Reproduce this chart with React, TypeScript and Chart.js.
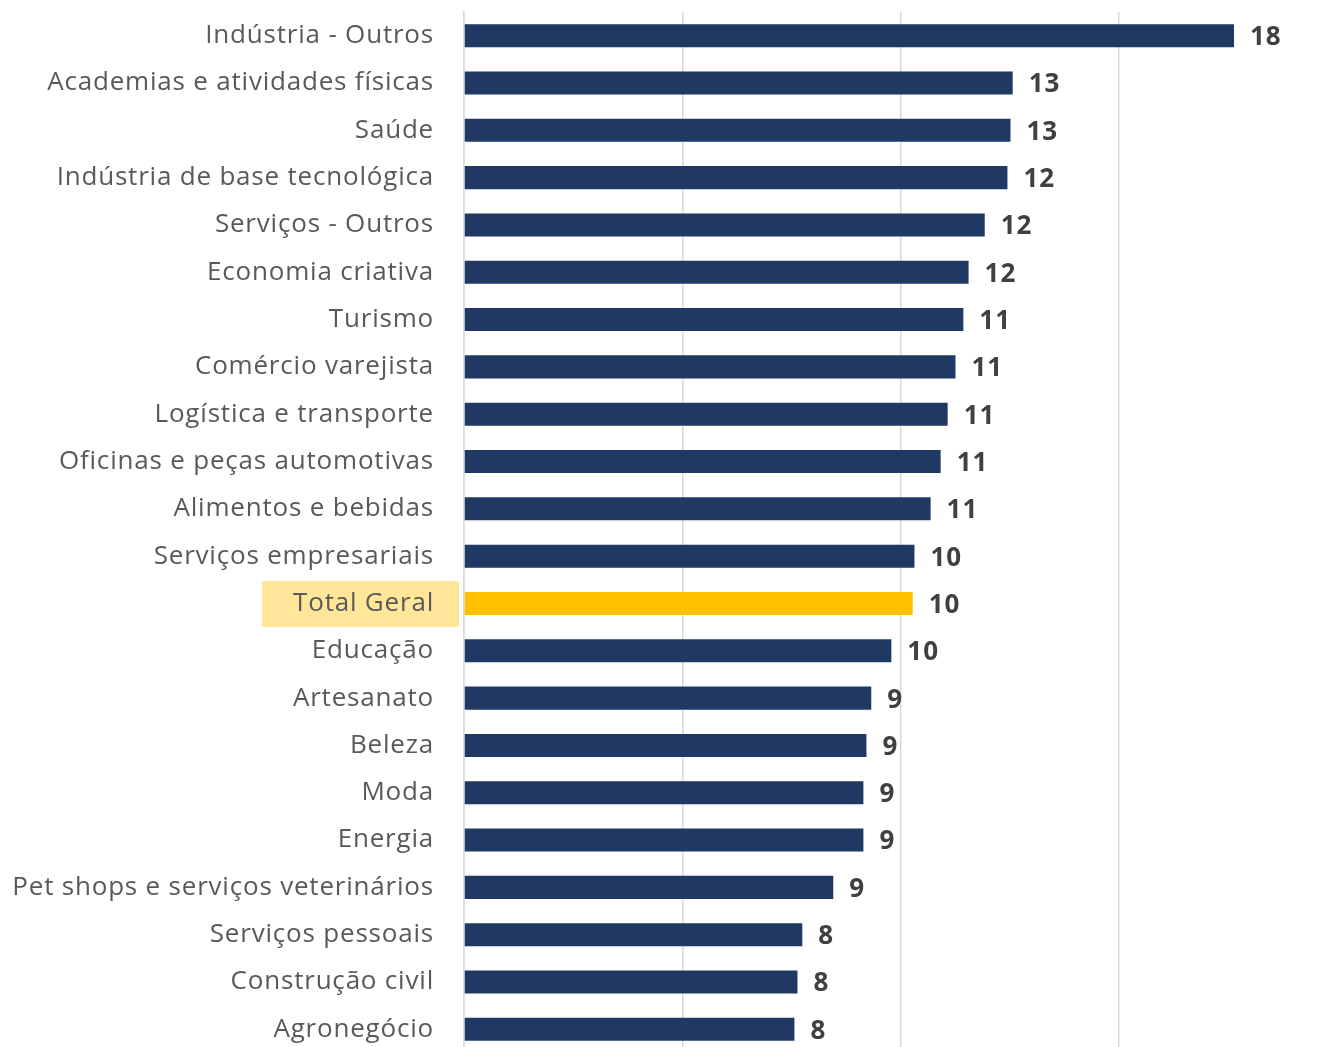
import React, { useEffect, useRef } from "react";
import { Chart, registerables } from "chart.js";

Chart.register(...registerables);

const categories: string[] = [
  "Indústria - Outros",
  "Academias e atividades físicas",
  "Saúde",
  "Indústria de base tecnológica",
  "Serviços - Outros",
  "Economia criativa",
  "Turismo",
  "Comércio varejista",
  "Logística e transporte",
  "Oficinas e peças automotivas",
  "Alimentos e bebidas",
  "Serviços empresariais",
  "Total Geral",
  "Educação",
  "Artesanato",
  "Beleza",
  "Moda",
  "Energia",
  "Pet shops e serviços veterinários",
  "Serviços pessoais",
  "Construção civil",
  "Agronegócio",
];

const values: number[] = [
  17.64, 12.57, 12.52, 12.45, 11.93, 11.56, 11.44, 11.26, 11.08, 10.92, 10.69,
  10.32, 10.28, 9.79, 9.33, 9.22, 9.15, 9.15, 8.46, 7.75, 7.64, 7.57,
];

const valueLabels: string[] = [
  "18", "13", "13", "12", "12", "12", "11", "11", "11", "11", "11",
  "10", "10", "10", "9", "9", "9", "9", "9", "8", "8", "8",
];

const highlightCategory = "Total Geral";
const NAVY = "#1F3864";
const GOLD = "#FFC000";
const FONT = "'Open Sans', sans-serif";

export default function App() {
  const ref = useRef<HTMLCanvasElement | null>(null);

  useEffect(() => {
    if (!ref.current) return;
    const hlIndex = categories.indexOf(highlightCategory);

    const highlightPlugin = {
      id: "hlLabel",
      beforeDraw(chart: any) {
        const { ctx, chartArea } = chart;
        const y = chart.scales.y.getPixelForValue(hlIndex);
        ctx.fillStyle = "#FFE699";
        ctx.fillRect(chartArea.left - 202, y - 22.5, 197, 46);
        (ctx as any).letterSpacing = "0.8px";
      },
      afterDraw(chart: any) {
        (chart.ctx as any).letterSpacing = "0px";
      },
    };

    const labelPlugin = {
      id: "valLabels",
      afterDatasetsDraw(chart: any) {
        const { ctx } = chart;
        const meta = chart.getDatasetMeta(0);
        ctx.save();
        ctx.font = `bold 26px ${FONT}`;
        (ctx as any).letterSpacing = "1px";
        ctx.fillStyle = "#404040";
        ctx.textAlign = "left";
        ctx.textBaseline = "middle";
        meta.data.forEach((bar: any, i: number) => {
          ctx.fillText(valueLabels[i], bar.x + 16, bar.y + 2);
        });
        ctx.restore();
      },
    };

    const chart = new Chart(ref.current, {
      type: "bar",
      data: {
        labels: categories,
        datasets: [
          {
            data: values,
            backgroundColor: categories.map((c) => (c === highlightCategory ? GOLD : NAVY)),
            categoryPercentage: 1,
            barPercentage: 0.487,
            borderWidth: 0,
          },
        ],
      },
      options: {
        indexAxis: "y",
        animation: false,
        responsive: false,
        maintainAspectRatio: false,
        layout: { padding: { top: 12, right: 3, bottom: 0, left: 0 } },
        plugins: { legend: { display: false }, tooltip: { enabled: false } },
        scales: {
          x: {
            min: 0,
            max: 20,
            ticks: { display: false, stepSize: 5 },
            grid: { color: "#D9D9D9", lineWidth: 1.5, drawTicks: false },
            border: { display: false },
          },
          y: {
            afterFit(scale: any) {
              scale.width = 464;
              scale.paddingTop = 0;
              scale.paddingBottom = 0;
            },
            ticks: {
              color: "#595959",
              padding: 30,
              font: { family: FONT, size: 26 },
            },
            grid: { display: false, drawTicks: false },
            border: { color: "#D9D9D9", width: 1.5 },
          },
        },
      },
      plugins: [highlightPlugin, labelPlugin],
    });
    return () => chart.destroy();
  }, []);

  return (
    <div style={{ position: "fixed", left: 0, top: 0, width: 1321, height: 1047, overflow: "hidden", background: "#fff" }}>
      <canvas ref={ref} width={1340} height={1053} style={{ display: "block" }} />
    </div>
  );
}
